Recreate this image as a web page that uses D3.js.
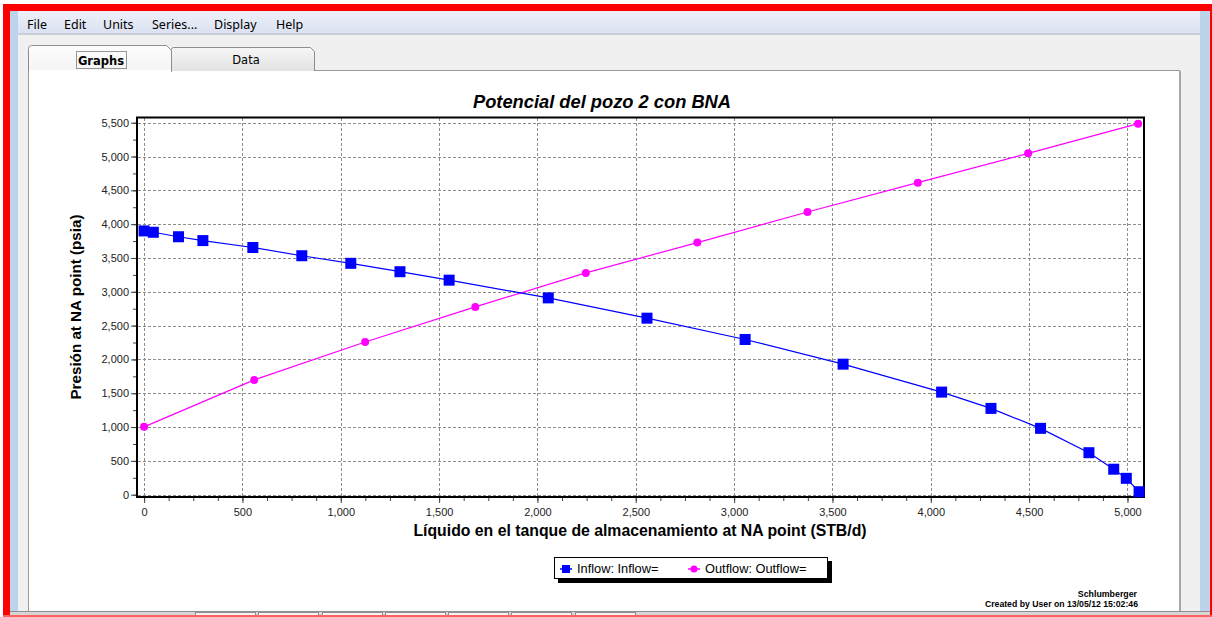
<!DOCTYPE html>
<html><head><meta charset="utf-8">
<script src="https://cdn.jsdelivr.net/npm/d3@7"></script>
<style>html,body{margin:0;padding:0;background:#fff;overflow:hidden}</style>
</head><body>
<svg id="c" width="1212" height="617"></svg>
<script>
// ---------- data ----------
const inflowX = [0, 47, 175, 299, 553, 802, 1051, 1301, 1551, 2055, 2557, 3056, 3554, 4055, 4306, 4558, 4804, 4930, 4994, 5059];
const inflowY = [3900, 3880, 3814, 3757, 3655, 3533, 3421, 3297, 3172, 2910, 2610, 2295, 1930, 1517, 1276, 981, 621, 377, 242, 44];
const outflowX = [0, 560, 1124, 1684, 2246, 2813, 3373, 3934, 4495, 5054];
const outflowY = [1003, 1697, 2258, 2777, 3279, 3728, 4180, 4614, 5047, 5486];
const xTicks = [0, 500, 1000, 1500, 2000, 2500, 3000, 3500, 4000, 4500, 5000];
const yTicks = [0, 500, 1000, 1500, 2000, 2500, 3000, 3500, 4000, 4500, 5000, 5500];
const menuItems = ["File", "Edit", "Units", "Series...", "Display", "Help"];
const seriesNames = ["Inflow: Inflow=", "Outflow: Outflow="];
const titleText = "Potencial del pozo 2 con BNA";
const xTitle = "Líquido en el tanque de almacenamiento at NA point (STB/d)";
const yTitle = "Presión at NA point (psia)";

const svg = d3.select("#c");
const F = "'Liberation Sans', Arial, sans-serif";

// ---------- window chrome ----------
const defs = svg.append("defs");
const g1 = defs.append("linearGradient").attr("id","menuG").attr("x1",0).attr("y1",0).attr("x2",0).attr("y2",1);
g1.append("stop").attr("offset","0").attr("stop-color","#eef1fa");
g1.append("stop").attr("offset","1").attr("stop-color","#dbe1f1");
const g2 = defs.append("linearGradient").attr("id","tabG").attr("x1",0).attr("y1",0).attr("x2",0).attr("y2",1);
g2.append("stop").attr("offset","0").attr("stop-color","#f6f6f6");
g2.append("stop").attr("offset","1").attr("stop-color","#e3e3e3");
const g3 = defs.append("linearGradient").attr("id","tabA").attr("x1",0).attr("y1",0).attr("x2",0).attr("y2",1);
g3.append("stop").attr("offset","0").attr("stop-color","#fdfdfd");
g3.append("stop").attr("offset","1").attr("stop-color","#f4f4f4");

svg.append("rect").attr("x",0).attr("y",0).attr("width",1212).attr("height",617).attr("fill","#fff");
svg.append("rect").attr("x",3).attr("y",4).attr("width",1209).attr("height",613).attr("fill","#ff0000");
svg.append("rect").attr("x",10).attr("y",11).attr("width",1200).attr("height",603).attr("fill","#bcd3ec");
svg.append("rect").attr("x",18).attr("y",11).attr("width",1182).attr("height",603).attr("fill","#f0f0f0");
svg.append("rect").attr("x",18).attr("y",11).attr("width",1182).attr("height",22).attr("fill","url(#menuG)");
svg.append("rect").attr("x",18).attr("y",33).attr("width",1182).attr("height",2).attr("fill","#c9cdd6");

const menuPos = [27, 64, 103, 152, 214, 276];
svg.append("g").selectAll("text").data(menuItems).join("text")
  .attr("x",(d,i)=>menuPos[i]).attr("y",29)
  .attr("font-family","'Noto Sans', 'DejaVu Sans', sans-serif").attr("font-size",12.5)
  .attr("fill","#000").text(d=>d);

// panel
svg.append("rect").attr("x",28.5).attr("y",70.5).attr("width",1151).attr("height",545).attr("fill","#fff").attr("stroke","#9a9a9a");
svg.append("rect").attr("x",1179).attr("y",71).attr("width",2).attr("height",541).attr("fill","#a8a8a8");

// tabs
svg.append("path").attr("d","M171.5,71 L171.5,49.5 Q171.5,47.5 173.5,47.5 L310.5,47.5 L314.5,51.5 L314.5,71")
  .attr("fill","url(#tabG)").attr("stroke","#8a8d94");
svg.append("path").attr("d","M28.5,72 L28.5,48.5 Q28.5,45.5 31.5,45.5 L166.5,45.5 L171.5,50.5 L171.5,72")
  .attr("fill","url(#tabA)").attr("stroke","#8a8d94");
svg.append("rect").attr("x",29).attr("y",70).attr("width",142).attr("height",3).attr("fill","#fff");
svg.append("text").attr("x",101).attr("y",65).attr("text-anchor","middle").attr("font-family","'DejaVu Sans', sans-serif")
  .attr("font-size",11.5).attr("font-weight","bold").text("Graphs");
svg.append("rect").attr("x",76.5).attr("y",51.5).attr("width",50).attr("height",17).attr("fill","none")
  .attr("stroke","#333").attr("stroke-dasharray","1,1");
svg.append("text").attr("x",246).attr("y",64).attr("text-anchor","middle").attr("font-family","'DejaVu Sans', sans-serif")
  .attr("font-size",11.5).text("Data");

// bottom strip
svg.append("rect").attr("x",10).attr("y",611).attr("width",1200).attr("height",4).attr("fill","#d6d6d6");
svg.append("line").attr("x1",10).attr("x2",1210).attr("y1",611.5).attr("y2",611.5).attr("stroke","#8f8f8f");
[195,258,322,385,448,511,575].forEach(bx=>{
  svg.append("rect").attr("x",bx+0.5).attr("y",612.5).attr("width",60).attr("height",6).attr("fill","#f4f4f4").attr("stroke","#8f8f8f");
});
svg.append("rect").attr("x",3).attr("y",615).attr("width",1209).attr("height",2).attr("fill","#ff6060");

// ---------- chart ----------
const x = d3.scaleLinear().domain([-36, 5084]).range([137, 1144]);
const y = d3.scaleLinear().domain([-34, 5577]).range([497, 117.5]);

// grid
const grid = svg.append("g");
grid.selectAll("line.v").data(xTicks).join("line").attr("class","v")
  .attr("x1",d=>Math.round(x(d))+0.5).attr("x2",d=>Math.round(x(d))+0.5).attr("y1",118).attr("y2",496)
  .attr("stroke","#8c8c8c").attr("stroke-dasharray","3,2");
grid.selectAll("line.h").data(yTicks).join("line").attr("class","h")
  .attr("y1",d=>Math.round(y(d))+0.5).attr("y2",d=>Math.round(y(d))+0.5).attr("x1",138).attr("x2",1143)
  .attr("stroke","#8c8c8c").attr("stroke-dasharray","3,2");

// axes
const xMinor = d3.range(0, 5084, 125);
const yMinor = d3.range(0, 5577, 250);
const xAxisMinor = d3.axisBottom(x).tickValues(xMinor).tickSize(3).tickFormat("");
const xAxis = d3.axisBottom(x).tickValues(xTicks).tickSize(5).tickPadding(5).tickFormat(d3.format(","));
const yAxisMinor = d3.axisLeft(y).tickValues(yMinor).tickSize(3).tickFormat("");
const yAxis = d3.axisLeft(y).tickValues(yTicks).tickSize(5).tickPadding(2).tickFormat(d3.format(","));

function styleAxis(g){
  g.select(".domain").remove();
  g.selectAll("line").attr("stroke","#444");
  g.selectAll("text").attr("font-family",F).attr("font-size",11).attr("fill","#222");
}
svg.append("g").attr("transform","translate(0,498)").call(xAxisMinor).call(styleAxis);
svg.append("g").attr("transform","translate(0,498)").call(xAxis).call(styleAxis);
svg.append("g").attr("transform","translate(136,0)").call(yAxisMinor).call(styleAxis);
svg.append("g").attr("transform","translate(136,0)").call(yAxis).call(styleAxis);

// frame
svg.append("rect").attr("x",137).attr("y",117.5).attr("width",1007).attr("height",379.5)
  .attr("fill","none").attr("stroke","#000").attr("stroke-width",2);

// series
const inflow = inflowX.map((v,i)=>[v, inflowY[i]]);
const outflow = outflowX.map((v,i)=>[v, outflowY[i]]);
const line = d3.line().x(d=>x(d[0])).y(d=>y(d[1]));

svg.append("path").datum(outflow).attr("d",line).attr("fill","none").attr("stroke","#ff00ff").attr("stroke-width",1.2);
svg.append("path").datum(inflow).attr("d",line).attr("fill","none").attr("stroke","#0000ff").attr("stroke-width",1.2);

svg.append("g").selectAll("circle").data(outflow).join("circle")
  .attr("cx",d=>x(d[0])).attr("cy",d=>y(d[1])).attr("r",4).attr("fill","#ff00ff");
svg.append("g").selectAll("rect").data(inflow).join("rect")
  .attr("x",d=>x(d[0])-5.5).attr("y",d=>y(d[1])-5.5).attr("width",11).attr("height",11).attr("fill","#0000ff");

// titles
svg.append("text").attr("x",602).attr("y",108).attr("text-anchor","middle").attr("font-family",F)
  .attr("font-size",18.3).attr("font-weight","bold").attr("font-style","italic").text(titleText);
svg.append("text").attr("x",640).attr("y",536).attr("text-anchor","middle").attr("font-family",F)
  .attr("font-size",15.8).attr("font-weight","bold").text(xTitle);
svg.append("text").attr("transform","translate(80.5,307) rotate(-90)").attr("text-anchor","middle").attr("font-family",F)
  .attr("font-size",15.2).attr("font-weight","bold").text(yTitle);

// legend
const lg = svg.append("g");
lg.append("rect").attr("x",558).attr("y",561).attr("width",274).attr("height",22).attr("fill","#000");
lg.append("rect").attr("x",554.5).attr("y",557.5).attr("width",273).attr("height",21).attr("fill","#fff").attr("stroke","#000");
const lgX = [560, 688];
const lgColors = ["#0000ff", "#ff00ff"];
seriesNames.forEach((s,i)=>{
  lg.append("line").attr("x1",lgX[i]).attr("x2",lgX[i]+12).attr("y1",569).attr("y2",569).attr("stroke",lgColors[i]).attr("stroke-width",1.5);
  if(i===0) lg.append("rect").attr("x",lgX[i]+2).attr("y",565).attr("width",8).attr("height",8).attr("fill",lgColors[i]);
  else lg.append("circle").attr("cx",lgX[i]+6).attr("cy",569).attr("r",3.5).attr("fill",lgColors[i]);
  lg.append("text").attr("x",lgX[i]+17).attr("y",573).attr("font-family",F).attr("font-size",12.8).attr("fill","#000").text(s);
});

// footer
svg.append("text").attr("x",1137).attr("y",597).attr("text-anchor","end").attr("font-family",F)
  .attr("font-size",8.8).attr("font-weight","bold").text("Schlumberger");
svg.append("text").attr("x",1138).attr("y",607).attr("text-anchor","end").attr("font-family",F)
  .attr("font-size",8.7).attr("font-weight","bold").text("Created by User on 13/05/12 15:02:46");
</script>
</body></html>
